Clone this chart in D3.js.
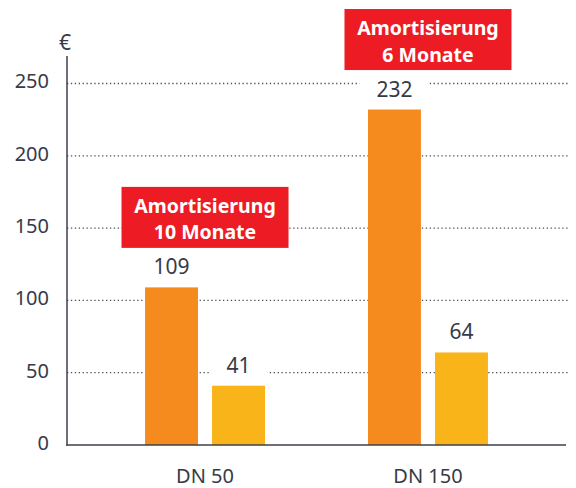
<!DOCTYPE html>
<html>
<head>
<meta charset="utf-8">
<script src="https://cdn.jsdelivr.net/npm/d3@7"></script>
<style>
  body { margin: 0; background: #fff; }
  svg { display: block; font-family: "Noto Sans", "Open Sans", sans-serif; }
</style>
</head>
<body>
<svg width="576" height="488"></svg>
<script>
// chart values
const categories = ['DN 50', 'DN 150'];
const seriesA = [109, 232];   // orange bars
const seriesB = [41, 64];     // yellow bars
const tickValues = [0, 50, 100, 150, 200, 250];
const paybackLines = [['Amortisierung', '10 Monate'], ['Amortisierung', '6 Monate']];
const unitLabel = '€';

let svg = d3.select('svg');
let width = 576;
let height = 488;

let margin = { left: 67, right: 10, top: 56, bottom: 43 };

let textColor = '#363b47';
let axisColor = '#3c4049';

let data = categories.map((c, i) => ({ name: c, values: [seriesA[i], seriesB[i]], box: paybackLines[i] }));

let x0 = d3.scaleBand()
  .domain(categories)
  .range([margin.left, width - margin.right])
  .paddingInner(0.462)
  .paddingOuter(0.35);

let x1 = d3.scaleBand()
  .domain([0, 1])
  .range([0, x0.bandwidth()])
  .paddingInner(0.21)
  .paddingOuter(0);

let y = d3.scaleLinear()
  .domain([0, 250])
  .range([height - margin.bottom, 83.5]);

let colors = ['#f58b1f', '#f9b419'];

// dotted gridlines
svg.append('g')
  .selectAll('line').data(tickValues.filter(d => d > 0)).enter().append('line')
  .attr('x1', margin.left)
  .attr('x2', 568)
  .attr('y1', d => y(d))
  .attr('y2', d => y(d))
  .attr('stroke', '#4a4f58')
  .attr('stroke-width', 1.3)
  .attr('stroke-dasharray', '1.3,2.6');

// y tick labels
let yAxis = d3.axisLeft(y).tickValues(tickValues).tickSize(0).tickPadding(18);
let gy = svg.append('g')
  .attr('transform', `translate(${margin.left},0)`)
  .call(yAxis);
gy.select('.domain').remove();
gy.selectAll('text')
  .attr('fill', textColor)
  .attr('font-size', 20)
  .attr('font-family', '"Noto Sans", sans-serif')
  .attr('dy', '0.22em');

// euro sign
svg.append('text')
  .attr('x', margin.left - 2)
  .attr('y', 50)
  .attr('text-anchor', 'middle')
  .attr('fill', textColor)
  .attr('font-size', 21)
  .text(unitLabel);

// bars
let groups = svg.append('g')
  .selectAll('g').data(data).enter().append('g')
  .attr('transform', d => `translate(${x0(d.name)},0)`);

groups.selectAll('rect').data(d => d.values).enter().append('rect')
  .attr('x', (d, i) => x1(i))
  .attr('y', d => y(d))
  .attr('width', x1.bandwidth())
  .attr('height', d => y(0) - y(d))
  .attr('fill', (d, i) => colors[i]);

// value labels with white backing
let labels = groups.selectAll('g.val').data(d => d.values).enter().append('g')
  .attr('class', 'val');
labels.append('rect').attr('fill', '#fff');
labels.append('text')
  .attr('x', (d, i) => x1(i) + x1.bandwidth() / 2)
  .attr('y', d => y(d) - 13)
  .attr('text-anchor', 'middle')
  .attr('fill', textColor)
  .attr('font-size', 21)
  .text(d => d);
labels.each(function () {
  let t = d3.select(this).select('text');
  let b = t.node().getBBox();
  d3.select(this).select('rect')
    .attr('x', b.x - 17)
    .attr('y', +t.attr('y') - 18)
    .attr('width', b.width + 34)
    .attr('height', 22);
});

// payback boxes
let boxes = groups.append('g')
  .attr('transform', d => `translate(${x0.bandwidth() / 2},${y(d.values[0]) - 39.5 - 61})`);
boxes.append('rect')
  .attr('x', -83.5)
  .attr('y', 0)
  .attr('width', 167)
  .attr('height', 61)
  .attr('fill', '#ed1c24');
boxes.selectAll('text').data(d => d.box).enter().append('text')
  .attr('x', 0)
  .attr('y', (d, i) => 26 + i * 26.5)
  .attr('text-anchor', 'middle')
  .attr('fill', '#fff')
  .attr('font-weight', 'bold')
  .attr('font-size', 19.5)
  .text(d => d);

// axes lines
svg.append('line')
  .attr('x1', margin.left).attr('x2', margin.left)
  .attr('y1', margin.top).attr('y2', y(0) + 0.75)
  .attr('stroke', axisColor).attr('stroke-width', 1.5);
svg.append('line')
  .attr('x1', margin.left - 0.75).attr('x2', 566)
  .attr('y1', y(0)).attr('y2', y(0))
  .attr('stroke', axisColor).attr('stroke-width', 1.5);

// category labels
svg.append('g')
  .selectAll('text').data(categories).enter().append('text')
  .attr('x', d => x0(d) + x0.bandwidth() / 2)
  .attr('y', 483)
  .attr('text-anchor', 'middle')
  .attr('fill', textColor)
  .attr('font-size', 20)
  .text(d => d);
</script>
</body>
</html>
